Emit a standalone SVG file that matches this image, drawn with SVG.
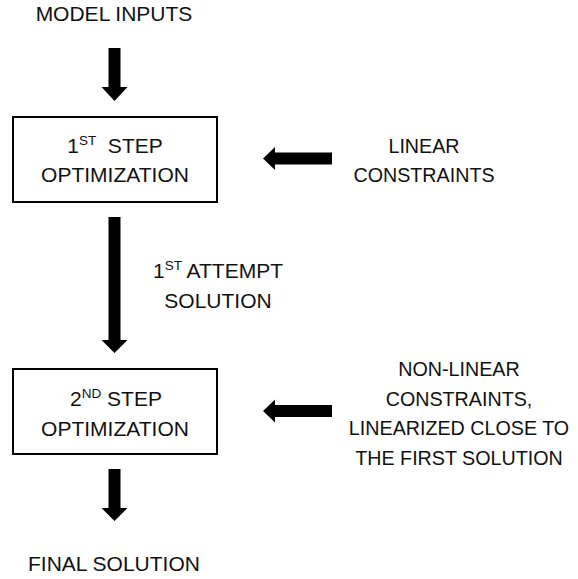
<svg xmlns="http://www.w3.org/2000/svg" width="578" height="579" viewBox="0 0 578 579">
  <style>
    .t { font-family: "Liberation Sans", Arial, sans-serif; font-size: 21px; fill: #111; text-anchor: middle; }
    .r { font-size: 19.7px; }
    .sup { font-size: 13.5px; }
    .box { fill: #fff; stroke: #000; stroke-width: 2; }
    .arr { fill: #000; }
  </style>
  <rect width="578" height="579" fill="#fff"/>
  <g id="connectors">
    <polygon class="arr" points="108.5,48 120.5,48 120.5,87 127.5,87 114.5,101 101.5,87 108.5,87"/>
    <polygon class="arr" points="108.5,217 120.5,217 120.5,340 127.5,340 114.5,353 101.5,340 108.5,340"/>
    <polygon class="arr" points="108.5,469 120.5,469 120.5,508 127.5,508 114.5,521 101.5,508 108.5,508"/>
    <polygon class="arr" points="263,158.5 275,147 275,152.5 332,152.5 332,164.5 275,164.5 275,170"/>
    <polygon class="arr" points="263,411 275,399.5 275,405 332,405 332,417 275,417 275,422.5"/>
  </g>
  <g id="model-inputs">
    <text class="t" x="114" y="21">MODEL INPUTS</text>
  </g>
  <g id="step1">
    <rect class="box" x="13" y="117" width="204" height="85"/>
    <text class="t" x="115" y="153">1<tspan class="sup" dy="-8">ST</tspan><tspan dy="8">&#160; STEP</tspan></text>
    <text class="t" x="115" y="182">OPTIMIZATION</text>
  </g>
  <g id="linear-constraints">
    <text class="t r" x="424" y="153">LINEAR</text>
    <text class="t r" x="424" y="182">CONSTRAINTS</text>
  </g>
  <g id="attempt-label">
    <text class="t" x="218" y="278">1<tspan class="sup" dy="-8">ST</tspan><tspan dy="8"> ATTEMPT</tspan></text>
    <text class="t" x="218" y="308">SOLUTION</text>
  </g>
  <g id="step2">
    <rect class="box" x="13" y="369" width="204" height="85"/>
    <text class="t" x="116" y="406">2<tspan class="sup" dy="-8">ND</tspan><tspan dy="8"> STEP</tspan></text>
    <text class="t" x="115" y="436">OPTIMIZATION</text>
  </g>
  <g id="nonlinear-constraints">
    <text class="t r" x="459" y="376">NON-LINEAR</text>
    <text class="t r" x="459" y="406">CONSTRAINTS,</text>
    <text class="t r" x="459" y="435">LINEARIZED CLOSE TO</text>
    <text class="t r" x="459" y="465">THE FIRST SOLUTION</text>
  </g>
  <g id="final-solution">
    <text class="t" x="114" y="571">FINAL SOLUTION</text>
  </g>
</svg>
